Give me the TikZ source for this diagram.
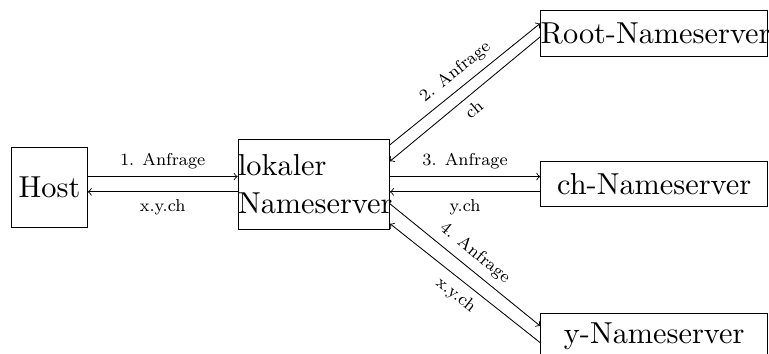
\documentclass[tikz,border=0pt]{standalone}
\usepackage{tikz}
\usetikzlibrary{calc}

\newcommand{\srvtext}[1]{\scalebox{1.41}{#1}}

\begin{document}
\begin{tikzpicture}[
  srv/.style={
    draw, inner sep=0pt, font=\normalsize,
  },
  ns/.style={
    srv, text width=3.71cm, minimum height=0.74cm, align=center,
  },
  msg/.style={
    font=\footnotesize,
  },
]
  \useasboundingbox (0,0) rectangle (12.566,-5.784);

  % Host and servers
  \node[srv, minimum width=1.235cm, minimum height=1.31cm] (host) at (0.81,-3.06) {\srvtext{Host}};
  \node[srv, text width=2.475cm, minimum height=1.475cm, align=left,
    font=\fontsize{10}{17.8}\selectfont] (lokal)
    at (5.127,-3.01) {\srvtext{lokaler}\\\srvtext{Nameserver}};
  \node[ns] (root) at (10.69,-0.545) {\srvtext{Root-Nameserver}};
  \node[ns] (chns) at (10.69,-3.01) {\srvtext{ch-Nameserver}};
  \node[ns] (yns)  at (10.69,-5.487) {\srvtext{y-Nameserver}};

  % Host <-> lokaler Nameserver
  \coordinate (lw1) at ([yshift=0.125cm]lokal.west);
  \coordinate (lw2) at ([yshift=-0.125cm]lokal.west);
  \draw[->] (host.east |- lw1) -- node[msg,above] {1. Anfrage} (lw1);
  \draw[<-] (host.east |- lw2) -- node[msg,below] {x.y.ch} (lw2);

  % lokaler Nameserver <-> Root
  \draw[->] ([yshift=-0.1cm]lokal.north east)
    -- node[msg,above,sloped] {2. Anfrage} ([yshift=0.163cm]root.west);
  \draw[<-] ([yshift=-0.37cm]lokal.north east)
    -- node[msg,below,sloped] {ch} ([yshift=-0.056cm]root.west);

  % lokaler Nameserver <-> ch
  \draw[->] ([yshift=0.125cm]lokal.east)
    -- node[msg,above] {3. Anfrage} ([yshift=0.125cm]chns.west);
  \draw[<-] ([yshift=-0.125cm]lokal.east)
    -- node[msg,below] {y.ch} ([yshift=-0.125cm]chns.west);

  % lokaler Nameserver <-> y
  \draw[->] ([yshift=0.425cm]lokal.south east)
    -- node[msg,above,sloped] {4. Anfrage} ([yshift=0.16cm]yns.west);
  \draw[<-] ([yshift=0.1cm]lokal.south east)
    -- node[msg,below,sloped] {x.y.ch} ([yshift=-0.113cm]yns.west);
\end{tikzpicture}
\end{document}
